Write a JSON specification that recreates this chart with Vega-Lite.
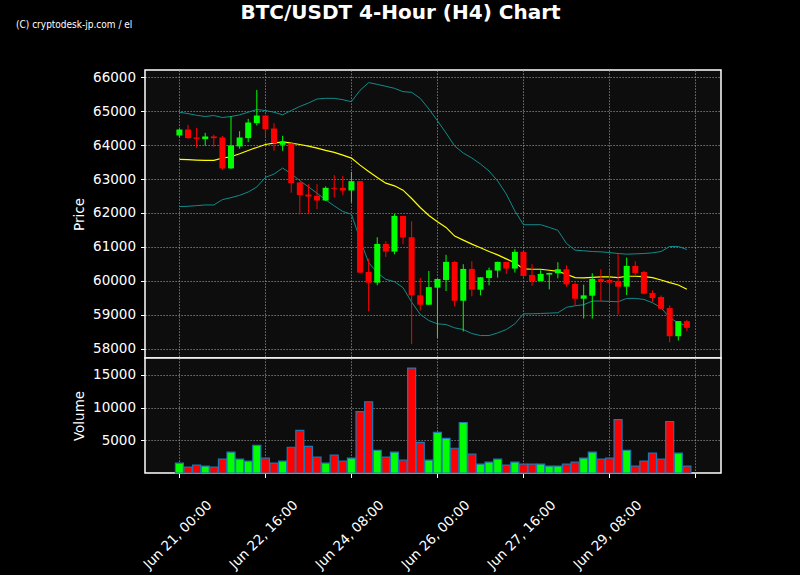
{
  "$schema": "https://vega.github.io/schema/vega-lite/v6.json",
  "background": "black",
  "padding": {"left": 15, "top": 2, "right": 80, "bottom": 12},
  "title": {"text": "BTC/USDT 4-Hour (H4) Chart", "fontSize": 20, "fontWeight": "bold", "font": "DejaVu Sans", "color": "white", "anchor": "middle", "offset": 0, "dy": 3.5, "dx": 32},
  "datasets": {
    "c": [
      {"t":"2024-06-21T00:00:00Z","o":64285,"h":64480,"l":64230,"c":64461,"v":1515,"ma":63579,"ub":64971,"lb":62188},
      {"t":"2024-06-21T04:00:00Z","o":64461,"h":64599,"l":64187,"c":64207,"v":909,"ma":63575,"ub":64930,"lb":62198},
      {"t":"2024-06-21T08:00:00Z","o":64226,"h":64510,"l":63922,"c":64187,"v":1212,"ma":63560,"ub":64880,"lb":62217},
      {"t":"2024-06-21T12:00:00Z","o":64177,"h":64363,"l":63981,"c":64256,"v":1060,"ma":63550,"ub":64844,"lb":62237},
      {"t":"2024-06-21T16:00:00Z","o":64256,"h":64305,"l":63952,"c":64207,"v":909,"ma":63550,"ub":64873,"lb":62237},
      {"t":"2024-06-21T20:00:00Z","o":64226,"h":64275,"l":63266,"c":63315,"v":2121,"ma":63619,"ub":64814,"lb":62394},
      {"t":"2024-06-22T00:00:00Z","o":63315,"h":64853,"l":63300,"c":63991,"v":3181,"ma":63658,"ub":64844,"lb":62452},
      {"t":"2024-06-22T04:00:00Z","o":63962,"h":64412,"l":63893,"c":64226,"v":2121,"ma":63746,"ub":64893,"lb":62521},
      {"t":"2024-06-22T08:00:00Z","o":64207,"h":64775,"l":64089,"c":64667,"v":1818,"ma":63844,"ub":64971,"lb":62619},
      {"t":"2024-06-22T12:00:00Z","o":64648,"h":65628,"l":64579,"c":64873,"v":4242,"ma":63932,"ub":65049,"lb":62766},
      {"t":"2024-06-22T16:00:00Z","o":64873,"h":64893,"l":64246,"c":64471,"v":2272,"ma":64020,"ub":65020,"lb":63050},
      {"t":"2024-06-22T20:00:00Z","o":64491,"h":64648,"l":63834,"c":64060,"v":1515,"ma":64060,"ub":64971,"lb":63148},
      {"t":"2024-06-23T00:00:00Z","o":64011,"h":64275,"l":63834,"c":64099,"v":1818,"ma":64099,"ub":64893,"lb":63325},
      {"t":"2024-06-23T04:00:00Z","o":64050,"h":64060,"l":62599,"c":62884,"v":3939,"ma":64060,"ub":65020,"lb":63158},
      {"t":"2024-06-23T08:00:00Z","o":62903,"h":62910,"l":61953,"c":62531,"v":6515,"ma":64020,"ub":65140,"lb":62952},
      {"t":"2024-06-23T12:00:00Z","o":62545,"h":62850,"l":61964,"c":62486,"v":4090,"ma":63972,"ub":65242,"lb":62771},
      {"t":"2024-06-23T16:00:00Z","o":62506,"h":62850,"l":62112,"c":62368,"v":2424,"ma":63913,"ub":65360,"lb":62584},
      {"t":"2024-06-23T20:00:00Z","o":62368,"h":62781,"l":62360,"c":62742,"v":1515,"ma":63844,"ub":65380,"lb":62388},
      {"t":"2024-06-24T00:00:00Z","o":62742,"h":63116,"l":62457,"c":62713,"v":2727,"ma":63785,"ub":65380,"lb":62210},
      {"t":"2024-06-24T04:00:00Z","o":62742,"h":63096,"l":62526,"c":62663,"v":1818,"ma":63707,"ub":65340,"lb":62043},
      {"t":"2024-06-24T08:00:00Z","o":62663,"h":63214,"l":62309,"c":62939,"v":2272,"ma":63618,"ub":65281,"lb":61964},
      {"t":"2024-06-24T12:00:00Z","o":62939,"h":62945,"l":60230,"c":60242,"v":9393,"ma":63411,"ub":65616,"lb":61226},
      {"t":"2024-06-24T16:00:00Z","o":60262,"h":60655,"l":59100,"c":59947,"v":10908,"ma":63224,"ub":65843,"lb":60537},
      {"t":"2024-06-24T20:00:00Z","o":59947,"h":61285,"l":59868,"c":61088,"v":3484,"ma":63047,"ub":65793,"lb":60242},
      {"t":"2024-06-25T00:00:00Z","o":61088,"h":61167,"l":60704,"c":60862,"v":2424,"ma":62880,"ub":65734,"lb":60045},
      {"t":"2024-06-25T04:00:00Z","o":60862,"h":61974,"l":60783,"c":61915,"v":3181,"ma":62801,"ub":65675,"lb":59976},
      {"t":"2024-06-25T08:00:00Z","o":61915,"h":61920,"l":61078,"c":61275,"v":1970,"ma":62673,"ub":65577,"lb":59799},
      {"t":"2024-06-25T12:00:00Z","o":61285,"h":61758,"l":58135,"c":59573,"v":16059,"ma":62427,"ub":65557,"lb":59375},
      {"t":"2024-06-25T16:00:00Z","o":59573,"h":60084,"l":59129,"c":59297,"v":4697,"ma":62161,"ub":65380,"lb":59011},
      {"t":"2024-06-25T20:00:00Z","o":59297,"h":60290,"l":59290,"c":59815,"v":1970,"ma":61925,"ub":65065,"lb":58830},
      {"t":"2024-06-26T00:00:00Z","o":59799,"h":60060,"l":58318,"c":60056,"v":6211,"ma":61740,"ub":64720,"lb":58733},
      {"t":"2024-06-26T04:00:00Z","o":60026,"h":60766,"l":59700,"c":60559,"v":5302,"ma":61576,"ub":64358,"lb":58713},
      {"t":"2024-06-26T08:00:00Z","o":60559,"h":60589,"l":59246,"c":59414,"v":3787,"ma":61319,"ub":63975,"lb":58615},
      {"t":"2024-06-26T12:00:00Z","o":59414,"h":60490,"l":58506,"c":60352,"v":7726,"ma":61201,"ub":63768,"lb":58565},
      {"t":"2024-06-26T16:00:00Z","o":60352,"h":60579,"l":59542,"c":59740,"v":2878,"ma":61082,"ub":63621,"lb":58447},
      {"t":"2024-06-26T20:00:00Z","o":59740,"h":60110,"l":59572,"c":60105,"v":1363,"ma":60974,"ub":63444,"lb":58388},
      {"t":"2024-06-27T00:00:00Z","o":60085,"h":60391,"l":59868,"c":60312,"v":1666,"ma":60865,"ub":63238,"lb":58388},
      {"t":"2024-06-27T04:00:00Z","o":60302,"h":60565,"l":60095,"c":60559,"v":2121,"ma":60766,"ub":62943,"lb":58466},
      {"t":"2024-06-27T08:00:00Z","o":60559,"h":60565,"l":60204,"c":60362,"v":1212,"ma":60648,"ub":62560,"lb":58565},
      {"t":"2024-06-27T12:00:00Z","o":60362,"h":60934,"l":60243,"c":60855,"v":1666,"ma":60530,"ub":62060,"lb":58733},
      {"t":"2024-06-27T16:00:00Z","o":60855,"h":60860,"l":60075,"c":60144,"v":1363,"ma":60352,"ub":61655,"lb":59029},
      {"t":"2024-06-27T20:00:00Z","o":60174,"h":60490,"l":59858,"c":59996,"v":1363,"ma":60342,"ub":61655,"lb":59029},
      {"t":"2024-06-28T00:00:00Z","o":59996,"h":60312,"l":59990,"c":60204,"v":1363,"ma":60342,"ub":61655,"lb":59039},
      {"t":"2024-06-28T04:00:00Z","o":60184,"h":60240,"l":59750,"c":60233,"v":1060,"ma":60312,"ub":61576,"lb":59049},
      {"t":"2024-06-28T08:00:00Z","o":60223,"h":60549,"l":60075,"c":60342,"v":1060,"ma":60280,"ub":61490,"lb":59059},
      {"t":"2024-06-28T12:00:00Z","o":60342,"h":60460,"l":59829,"c":59898,"v":1363,"ma":60194,"ub":61102,"lb":59220},
      {"t":"2024-06-28T16:00:00Z","o":59908,"h":59957,"l":59266,"c":59473,"v":1666,"ma":60095,"ub":60904,"lb":59266},
      {"t":"2024-06-28T20:00:00Z","o":59473,"h":59888,"l":58891,"c":59572,"v":2272,"ma":60085,"ub":60885,"lb":59296},
      {"t":"2024-06-29T00:00:00Z","o":59562,"h":60223,"l":58891,"c":60056,"v":3181,"ma":60105,"ub":60865,"lb":59404},
      {"t":"2024-06-29T04:00:00Z","o":60056,"h":60342,"l":59404,"c":59996,"v":2121,"ma":60115,"ub":60855,"lb":59404},
      {"t":"2024-06-29T08:00:00Z","o":60026,"h":60322,"l":59404,"c":59947,"v":2272,"ma":60115,"ub":60835,"lb":59394},
      {"t":"2024-06-29T12:00:00Z","o":59986,"h":60786,"l":59009,"c":59829,"v":8181,"ma":60095,"ub":60806,"lb":59384},
      {"t":"2024-06-29T16:00:00Z","o":59829,"h":60687,"l":59582,"c":60441,"v":3484,"ma":60135,"ub":60786,"lb":59483},
      {"t":"2024-06-29T20:00:00Z","o":60441,"h":60579,"l":60174,"c":60233,"v":1060,"ma":60135,"ub":60796,"lb":59483},
      {"t":"2024-06-30T00:00:00Z","o":60263,"h":60293,"l":59601,"c":59621,"v":1818,"ma":60125,"ub":60806,"lb":59453},
      {"t":"2024-06-30T04:00:00Z","o":59641,"h":59720,"l":59375,"c":59493,"v":3030,"ma":60095,"ub":60826,"lb":59355},
      {"t":"2024-06-30T08:00:00Z","o":59523,"h":59572,"l":59170,"c":59177,"v":2121,"ma":60026,"ub":60865,"lb":59207},
      {"t":"2024-06-30T12:00:00Z","o":59197,"h":59276,"l":58190,"c":58368,"v":7878,"ma":59947,"ub":61013,"lb":58911},
      {"t":"2024-06-30T16:00:00Z","o":58368,"h":58812,"l":58240,"c":58812,"v":3030,"ma":59878,"ub":61013,"lb":58763},
      {"t":"2024-06-30T20:00:00Z","o":58812,"h":58851,"l":58516,"c":58615,"v":1060,"ma":59750,"ub":60924,"lb":58664}
    ]
  },
  "data": {"name": "c"},
  "spacing": 0,
  "bounds": "flush",
  "vconcat": [
    {
      "width": 576,
      "height": 288,
      "title": {"text": "(C) cryptodesk-jp.com / el", "fontSize": 10, "fontWeight": "normal", "font": "Liberation Sans Narrow, DejaVu Sans Condensed, sans-serif", "color": "white", "anchor": "start", "frame": "group", "dx": -129, "offset": 40},
      "encoding": {
        "x": {"field": "t", "type": "temporal", "scale": {"type": "utc", "domain": [1718870400000, 1719834700000], "padding": 0},
          "axis": {"values": [1718928000000, 1719072000000, 1719216000000, 1719360000000, 1719504000000, 1719648000000, 1719792000000], "grid": true, "labels": false, "ticks": false, "domain": false, "title": null}}
      },
      "layer": [
        {"mark": {"type": "line", "color": "#138a8a", "strokeWidth": 1},
         "encoding": {"y": {"field": "ub", "type": "quantitative", "title": "Price", "scale": {"domain": [57726, 66215], "nice": false, "zero": false},
           "axis": {"values": [58000, 59000, 60000, 61000, 62000, 63000, 64000, 65000, 66000], "format": "d", "grid": true, "labelOverlap": false, "labelSeparation": 0}}}},
        {"mark": {"type": "line", "color": "#138a8a", "strokeWidth": 1},
         "encoding": {"y": {"field": "lb", "type": "quantitative", "title": "Price", "scale": {"domain": [57726, 66215], "nice": false, "zero": false},
           "axis": {"values": [58000, 59000, 60000, 61000, 62000, 63000, 64000, 65000, 66000], "format": "d", "grid": true, "labelOverlap": false, "labelSeparation": 0}}}},
        {"mark": {"type": "line", "color": "#ffff00", "strokeWidth": 1.2},
         "encoding": {"y": {"field": "ma", "type": "quantitative", "title": "Price", "scale": {"domain": [57726, 66215], "nice": false, "zero": false},
           "axis": {"values": [58000, 59000, 60000, 61000, 62000, 63000, 64000, 65000, 66000], "format": "d", "grid": true, "labelOverlap": false, "labelSeparation": 0}}}},
        {"mark": {"type": "rule", "strokeWidth": 1},
         "encoding": {
           "y": {"field": "l", "type": "quantitative", "title": "Price", "scale": {"domain": [57726, 66215], "nice": false, "zero": false},
             "axis": {"values": [58000, 59000, 60000, 61000, 62000, 63000, 64000, 65000, 66000], "format": "d", "grid": true, "labelOverlap": false, "labelSeparation": 0}},
           "y2": {"field": "h"},
           "color": {"condition": {"test": "datum.c >= datum.o", "value": "#00ff00"}, "value": "#ff0000"}}},
        {"mark": {"type": "bar", "width": 6},
         "encoding": {
           "y": {"field": "o", "type": "quantitative", "title": "Price", "scale": {"domain": [57726, 66215], "nice": false, "zero": false},
             "axis": {"values": [58000, 59000, 60000, 61000, 62000, 63000, 64000, 65000, 66000], "format": "d", "grid": true, "labelOverlap": false, "labelSeparation": 0}},
           "y2": {"field": "c"},
           "color": {"condition": {"test": "datum.c >= datum.o", "value": "#00ff00"}, "value": "#ff0000"}}}
      ]
    },
    {
      "width": 576,
      "height": 115,
      "mark": {"type": "bar", "width": 8, "stroke": "#1f77b4", "strokeWidth": 1.2},
      "encoding": {
        "x": {"field": "t", "type": "temporal", "scale": {"type": "utc", "domain": [1718870400000, 1719834700000], "padding": 0},
          "axis": {"values": [1718928000000, 1719072000000, 1719216000000, 1719360000000, 1719504000000, 1719648000000, 1719792000000], "grid": true, "title": null,
            "labelExpr": "datum.value >= 1719792000000 ? '' : utcFormat(datum.value, '%b %d, %H:%M')",
            "labelAngle": -45, "labelAlign": "center", "labelBaseline": "middle", "labelPadding": 57, "labelOffset": -2, "labelOverlap": false, "labelBound": false, "labelFlush": false}},
        "y": {"field": "v", "type": "quantitative", "title": "Volume", "scale": {"domain": [0, 17600], "nice": false},
          "axis": {"values": [5000, 10000, 15000], "format": "d", "grid": true, "labelOverlap": false}},
        "color": {"condition": {"test": "datum.c >= datum.o", "value": "#00ff00"}, "value": "#ff0000"}
      }
    }
  ],
  "config": {
    "view": {"stroke": "white", "strokeWidth": 1.5, "fill": "#0d0d0d"},
    "axis": {"domain": false, "labelColor": "white", "titleColor": "white", "tickColor": "white", "tickWidth": 1, "tickSize": 4.5,
      "labelFont": "DejaVu Sans", "titleFont": "DejaVu Sans", "labelFontSize": 13.5, "titleFontSize": 13.5, "titleFontWeight": "normal",
      "gridColor": "#a0a0a0", "gridDash": [1.2, 1.8], "gridWidth": 0.9, "labelPadding": 5, "titlePadding": 6, "labelOverlap": false}
  }
}
